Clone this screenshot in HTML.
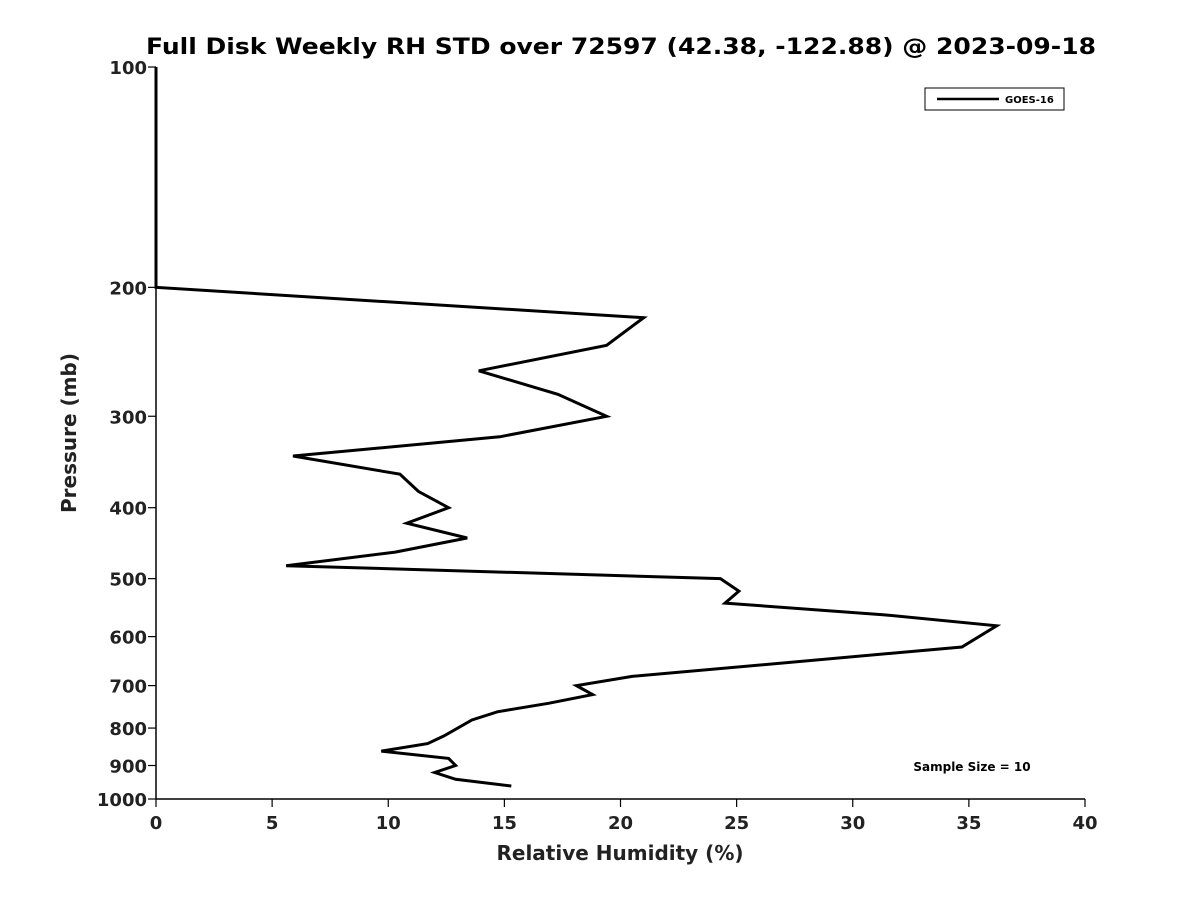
<!DOCTYPE html>
<html><head><meta charset="utf-8"><style>
html,body{margin:0;padding:0;background:#fff;}
svg{display:block;font-family:"DejaVu Sans","Liberation Sans",sans-serif;}
</style></head><body>
<svg id="chart" width="1200" height="900" viewBox="0 0 1200 900">
<rect width="1200" height="900" fill="#fff"/>
<text x="621" y="54" text-anchor="middle" font-size="22" font-weight="bold" fill="#000" textLength="950" lengthAdjust="spacingAndGlyphs">Full Disk Weekly RH STD over 72597 (42.38, -122.88) @ 2023-09-18</text>
<g id="axes"></g>
<g id="series"></g>
<text x="620" y="860" text-anchor="middle" font-size="20" font-weight="bold" fill="#222">Relative Humidity (%)</text>
<text transform="translate(76,433) rotate(-90)" text-anchor="middle" font-size="20" font-weight="bold" fill="#222">Pressure (mb)</text>
<g>
<rect x="925" y="88" width="139" height="22" fill="#fff" stroke="#000" stroke-width="1"/>
<line x1="937" y1="99" x2="999" y2="99" stroke="#000" stroke-width="2.5"/>
<text x="1005" y="103" font-size="10" font-weight="bold" fill="#000">GOES-16</text>
</g>
<text x="972" y="771" text-anchor="middle" font-size="12" font-weight="bold" fill="#000">Sample Size = 10</text>
</svg>
<script>
const pressures=[100,200,220,240,260,280,300,320,340,360,380,400,420,440,460,480,500,520,540,560,580,620,680,700,720,740,760,780,820,840,860,880,900,920,940,960];
const rhValues=[0,0,21.0,19.4,13.9,17.3,19.4,14.8,5.9,10.5,11.3,12.6,10.8,13.4,10.3,5.6,24.3,25.1,24.5,31.3,36.2,34.7,20.5,18.1,18.8,16.9,14.7,13.6,12.4,11.7,9.7,12.6,12.9,12.0,12.9,15.3];
const xTicks=[0,5,10,15,20,25,30,35,40];
const yTicks=[100,200,300,400,500,600,700,800,900,1000];
const X0=156,X1=1085,Y0=67,Y1=799;
const xScale=v=>X0+(v-0)/(40-0)*(X1-X0);
const yScale=p=>Y0+Math.log10(p/100)/Math.log10(10)*(Y1-Y0);
const NS="http://www.w3.org/2000/svg";
const axes=document.getElementById('axes');
function mk(tag,attrs,parent){const e=document.createElementNS(NS,tag);for(const k in attrs)e.setAttribute(k,attrs[k]);parent.appendChild(e);return e;}
const xl=mk('line',{x1:X0,y1:Y1,x2:X1,y2:Y1,stroke:'#000','stroke-width':1.5},axes);


const yl=mk('line',{x1:X0,y1:Y0,x2:X0,y2:Y1,stroke:'#000','stroke-width':1.5},axes);


xTicks.forEach(t=>{const x=xScale(t);
const tk=mk('line',{x1:x,y1:Y1,x2:x,y2:Y1+8,stroke:'#000','stroke-width':1.2},axes);


const tx=mk('text',{x:x,y:Y1+30,'text-anchor':'middle','font-size':18,'font-weight':'bold',fill:'#222'},axes);
tx.textContent=t;

});
yTicks.forEach(t=>{const y=yScale(t);
const tk=mk('line',{x1:X0-8,y1:y,x2:X0,y2:y,stroke:'#000','stroke-width':1.2},axes);


const tx=mk('text',{x:X0-9,y:y+7,'text-anchor':'end','font-size':18,'font-weight':'bold',fill:'#222'},axes);
tx.textContent=t;

});
const pts=pressures.map((p,i)=>xScale(rhValues[i]).toFixed(1)+','+yScale(p).toFixed(1)).join(' ');
const line=mk('polyline',{points:pts,fill:'none',stroke:'#000','stroke-width':3,'stroke-linejoin':'miter'},document.getElementById('series'));


</script>
</body></html>
